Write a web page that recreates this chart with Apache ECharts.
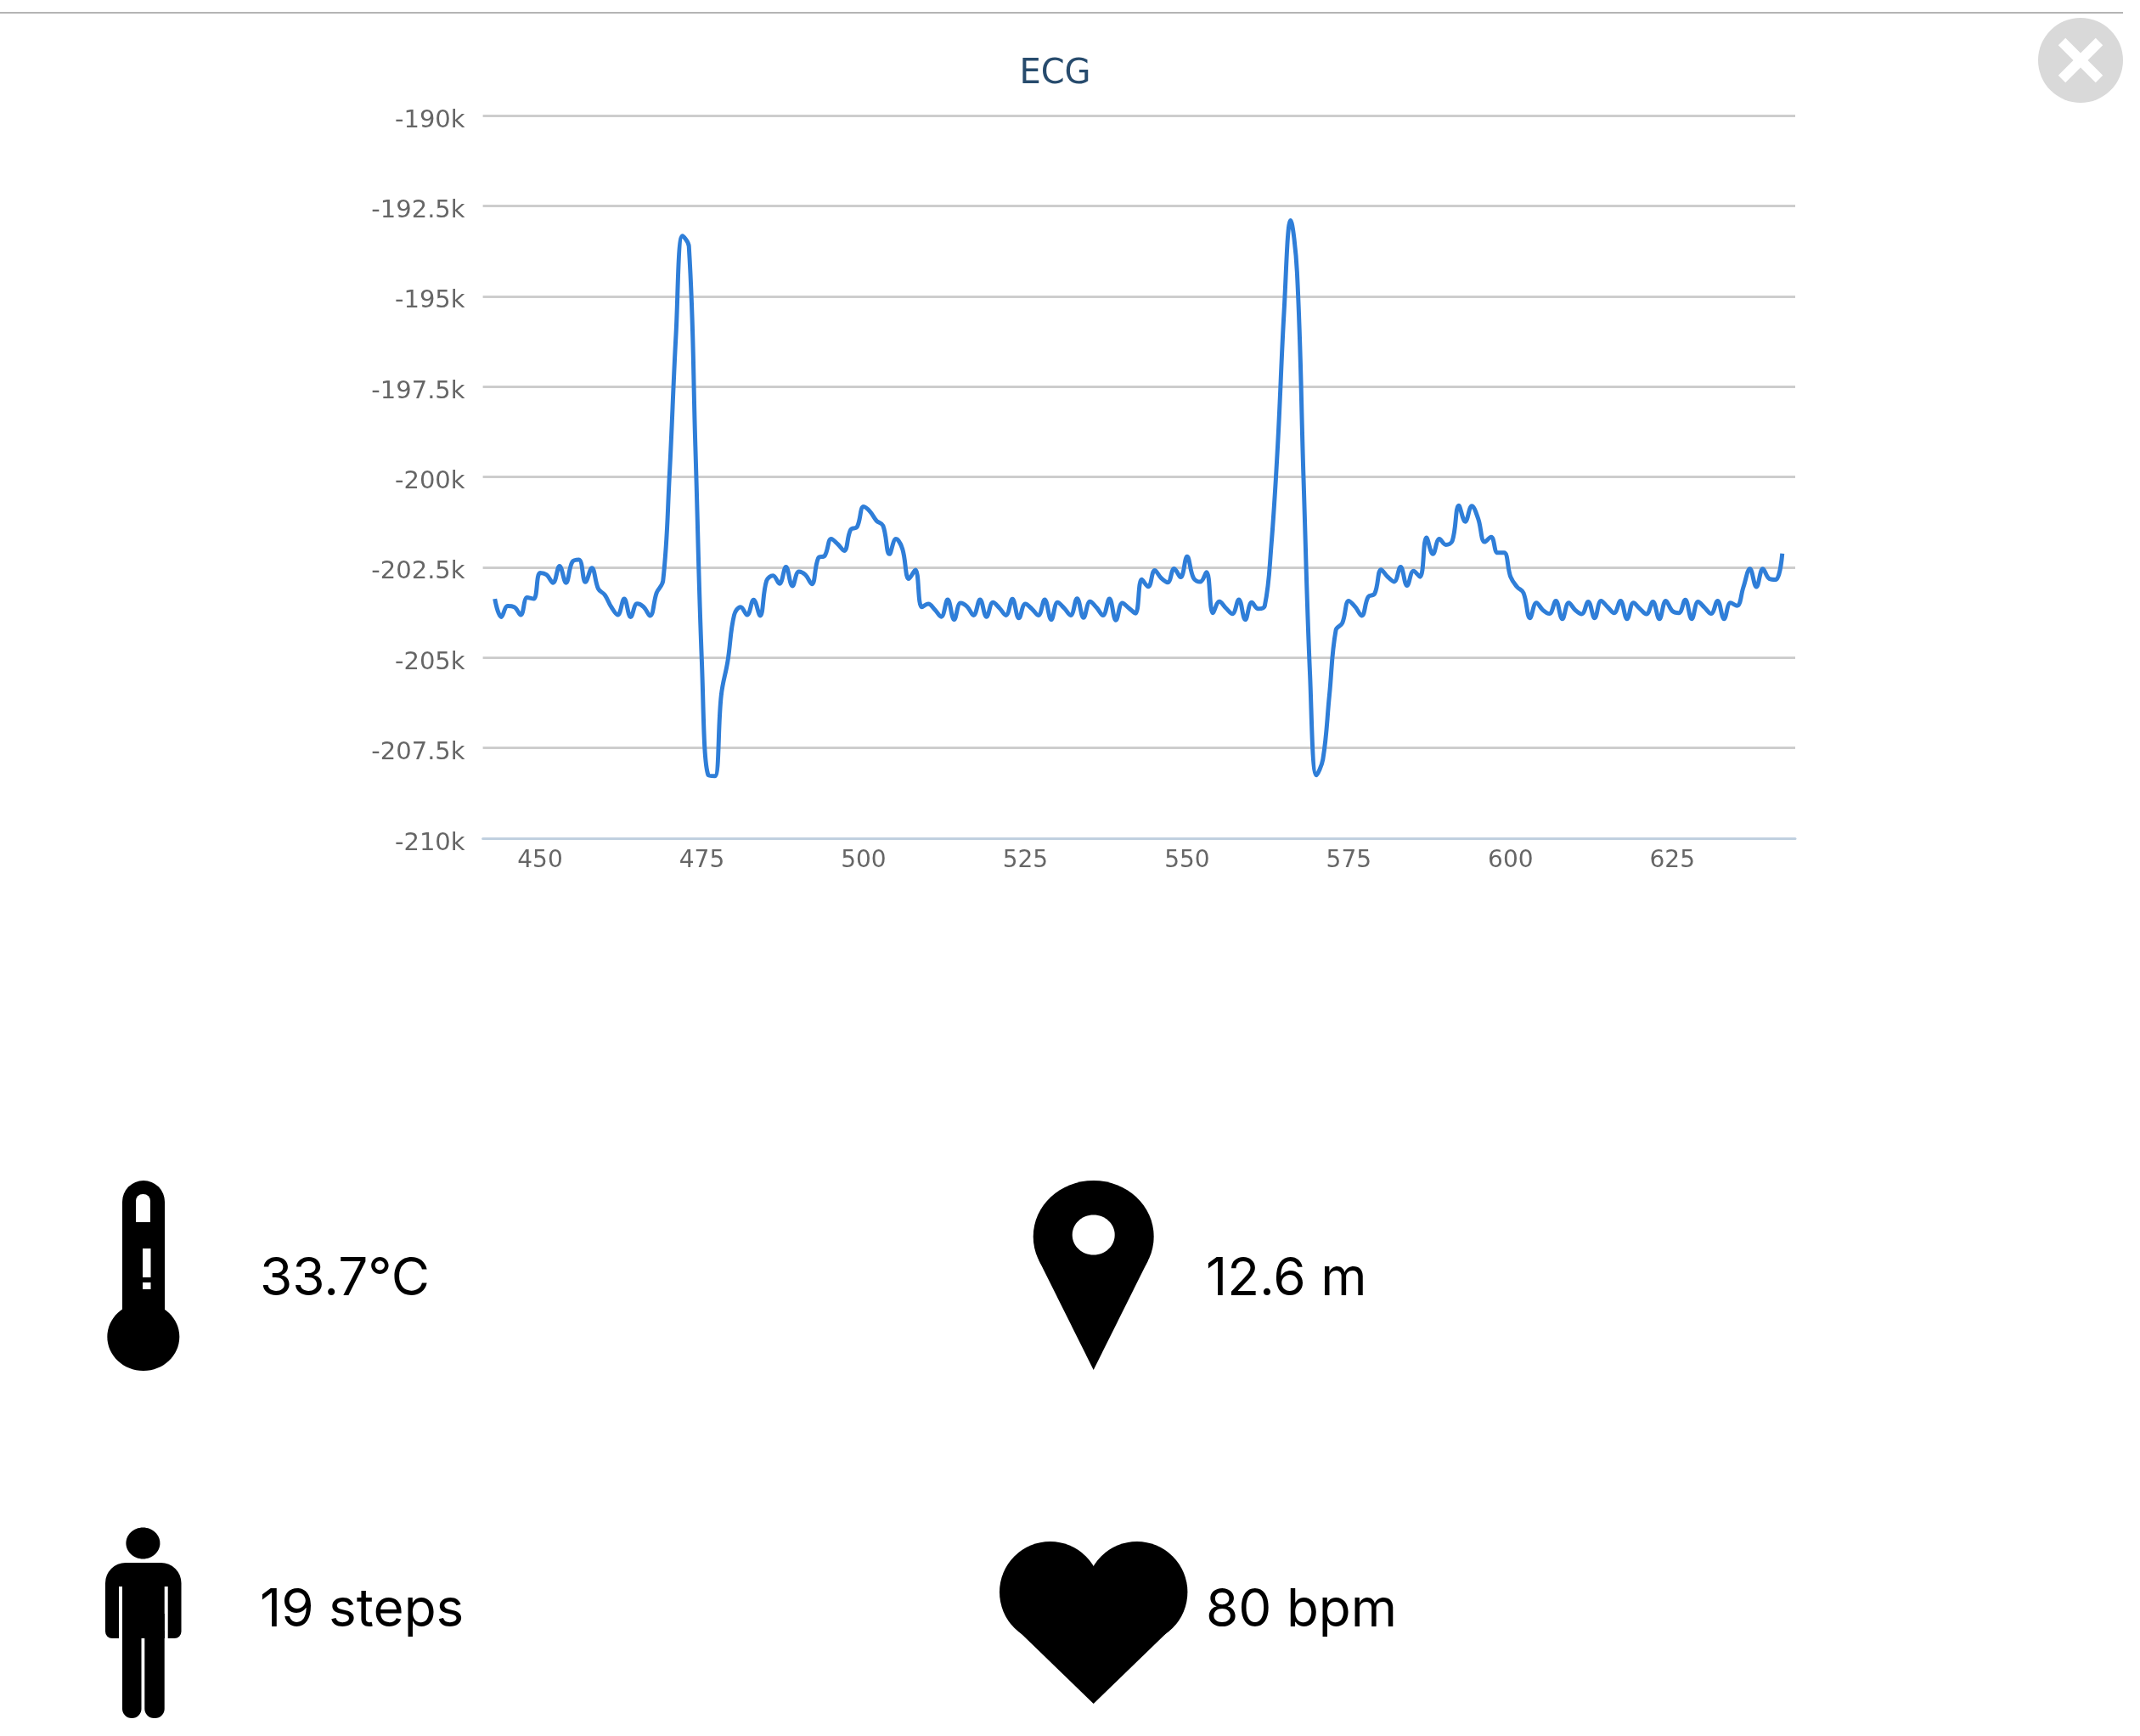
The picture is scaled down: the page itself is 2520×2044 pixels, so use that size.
<!DOCTYPE html>
<html>
<head>
<meta charset="utf-8">
<title>ECG</title>
<style>
  html, body { margin: 0; padding: 0; background: #fff; }
  #chart { width: 2520px; height: 2044px; }
</style>
<script src="https://cdn.jsdelivr.net/npm/echarts@6/dist/echarts.min.js"></script>
</head>
<body>
<div id="chart"></div>
<script>
// first sample on the x axis, one reading per unit after that
var firstSample = 443;
var ecgValues = [
  -203375, -203875, -203575, -203600, -203820, -203340, -203375, -202655, -202710, -202930,
  -202465, -202930, -202345, -202290, -202910, -202520, -203100, -203265, -203600, -203820,
  -203375, -203875, -203510, -203600, -203840, -203210, -202875, -199940, -196060, -193330,
  -193620, -199165, -205150, -208260, -208280, -206035, -205095, -203820, -203600, -203820,
  -203400, -203840, -202875, -202730, -202955, -202490, -203020, -202620, -202710, -202965,
  -202245, -202180, -201715, -201860, -202045, -201460, -201380, -200825, -200960, -201215,
  -201350, -202135, -201715, -201990, -202820, -202575, -203600, -203515, -203670, -203870,
  -203395, -203950, -203490, -203590, -203830, -203395, -203870, -203475, -203630, -203830,
  -203380, -203910, -203515, -203650, -203830, -203395, -203950, -203475, -203630, -203830,
  -203365, -203895, -203450, -203615, -203830, -203370, -203965, -203490, -203630, -203775,
  -202840, -203040, -202585, -202800, -202920, -202540, -202775, -202205, -202800, -202905,
  -202640, -203765, -203450, -203630, -203790, -203395, -203950, -203475, -203650, -203570,
  -201935, -199165, -195395, -192900, -194340, -200040, -205480, -208255, -207810, -206035,
  -204240, -204040, -203430, -203600, -203840, -203320, -203230, -202565, -202765, -202900,
  -202490, -203010, -202600, -202765, -201680, -202135, -201715, -201880, -201770, -200795,
  -201240, -200805, -201160, -201800, -201660, -202100, -202100, -202765, -203043, -203210,
  -203905, -203485, -203685, -203785, -203430, -203930, -203485, -203685, -203795, -203455,
  -203905, -203430, -203600, -203765, -203430, -203930, -203485, -203650, -203795, -203455,
  -203930, -203430, -203710, -203765, -203400, -203930, -203455, -203620, -203785, -203430,
  -203930, -203485, -203565, -203043, -202545, -203043, -202545, -202820, -202845, -202120
];
var xTicks = [450, 475, 500, 525, 550, 575, 600, 625];
var statTexts = ["33.7°C", "12.6 m", "19 steps", "80 bpm"];

var chartTitle = "ECG";

var seriesData = ecgValues.map(function (v, i) {
  return [firstSample + i, v];
});

// 页面上的图标, 用基本图形拼
function black(type, shape) {
  return { type: type, shape: shape, style: { fill: "#000" } };
}
function white(type, shape) {
  return { type: type, shape: shape, style: { fill: "#fff" } };
}
function statText(str, x, y) {
  return {
    type: "text",
    x: x,
    y: y,
    style: {
      text: str,
      fill: "#000",
      font: "400 62px Inter",
      textAlign: "left",
      textVerticalAlign: "bottom"
    }
  };
}

var icons = [
  // top rule
  { type: "rect", shape: { x: 0, y: 14, width: 2500, height: 2 }, style: { fill: "#b4b4b4" } },
  // close button
  { type: "circle", shape: { cx: 2450, cy: 71, r: 50 }, style: { fill: "#d9d9d9" } },
  { type: "line", shape: { x1: 2428, y1: 49, x2: 2472, y2: 93 }, style: { stroke: "#fff", lineWidth: 12 } },
  { type: "line", shape: { x1: 2472, y1: 49, x2: 2428, y2: 93 }, style: { stroke: "#fff", lineWidth: 12 } },

  // thermometer
  black("rect", { x: 144, y: 1390, width: 50, height: 190, r: [25, 25, 0, 0] }),
  black("ellipse", { cx: 168.8, cy: 1574, rx: 42.5, ry: 40 }),
  white("rect", { x: 160, y: 1406, width: 17, height: 33, r: [8, 8, 0, 0] }),
  white("rect", { x: 168, y: 1470, width: 9.5, height: 34 }),
  white("rect", { x: 168, y: 1510, width: 9.5, height: 8 }),

  // person
  black("ellipse", { cx: 168.4, cy: 1817, rx: 20, ry: 18.5 }),
  black("rect", { x: 124, y: 1840, width: 89.5, height: 89, r: [24, 24, 8, 8] }),
  white("rect", { x: 140, y: 1868, width: 4, height: 64 }),
  white("rect", { x: 193.7, y: 1868, width: 4, height: 64 }),
  black("rect", { x: 144, y: 1920, width: 22.5, height: 103, r: [0, 0, 11, 11] }),
  black("rect", { x: 170.3, y: 1920, width: 23.4, height: 103, r: [0, 0, 11, 11] }),
  black("rect", { x: 144, y: 1900, width: 49.7, height: 29 }),

  // pin
  black("ellipse", { cx: 1287.7, cy: 1456, rx: 71, ry: 66 }),
  black("polygon", { points: [[1223.3, 1483.7], [1352.1, 1483.7], [1287.7, 1613]] }),
  white("ellipse", { cx: 1287.7, cy: 1454, rx: 25, ry: 23.5 }),

  // heart
  black("circle", { cx: 1236.6, cy: 1874.6, r: 59.6 }),
  black("circle", { cx: 1338.8, cy: 1874.6, r: 59.6 }),
  black("polygon", { points: [[1194.8, 1916], [1236.6, 1874.6], [1287.7, 1850], [1338.8, 1874.6], [1380.6, 1916], [1287.7, 2006]] }),

  statText(statTexts[0], 306, 1537),
  statText(statTexts[1], 1420, 1537),
  statText(statTexts[2], 306, 1927),
  statText(statTexts[3], 1420, 1927)
];

var myChart = echarts.init(document.getElementById("chart"));

var option = {
  animation: false,
  backgroundColor: "#fff",
  title: {
    text: chartTitle,
    left: 1237.5,
    top: 63,
    textAlign: "center",
    textStyle: {
      color: "#274b6d",
      fontFamily: "DejaVu Sans",
      fontWeight: "normal",
      fontSize: 40
    }
  },
  grid: {
    left: 568.6,
    right: 2520 - 2114,
    top: 136,
    bottom: 2044 - 987,
    containLabel: false
  },
  xAxis: {
    type: "value",
    min: 441.15,
    max: 644,
    axisLine: { show: true, onZero: false, lineStyle: { color: "#c0d0e0", width: 3 } },
    axisTick: { show: false },
    splitLine: { show: false },
    axisLabel: {
      customValues: xTicks,
      color: "#666",
      fontFamily: "DejaVu Sans",
      fontSize: 28,
      margin: 13
    }
  },
  yAxis: {
    type: "value",
    min: -210000,
    max: -190000,
    interval: 2500,
    axisLine: { show: false },
    axisTick: { show: false },
    splitLine: { show: true, lineStyle: { color: "#cdcdcd", width: 3 } },
    axisLabel: {
      color: "#666",
      fontFamily: "DejaVu Sans",
      fontSize: 29,
      margin: 21,
      // 标签比网格线略低
      verticalAlign: "top",
      lineHeight: 12,
      formatter: function (value) {
        return value / 1000 + "k";
      }
    }
  },
  series: [
    {
      name: chartTitle,
      type: "line",
      data: seriesData,
      symbol: "none",
      smooth: 0.4,
      lineStyle: { color: "#2f7ed8", width: 5 }
    }
  ],
  graphic: { elements: icons }
};

myChart.setOption(option);
</script>
</body>
</html>
